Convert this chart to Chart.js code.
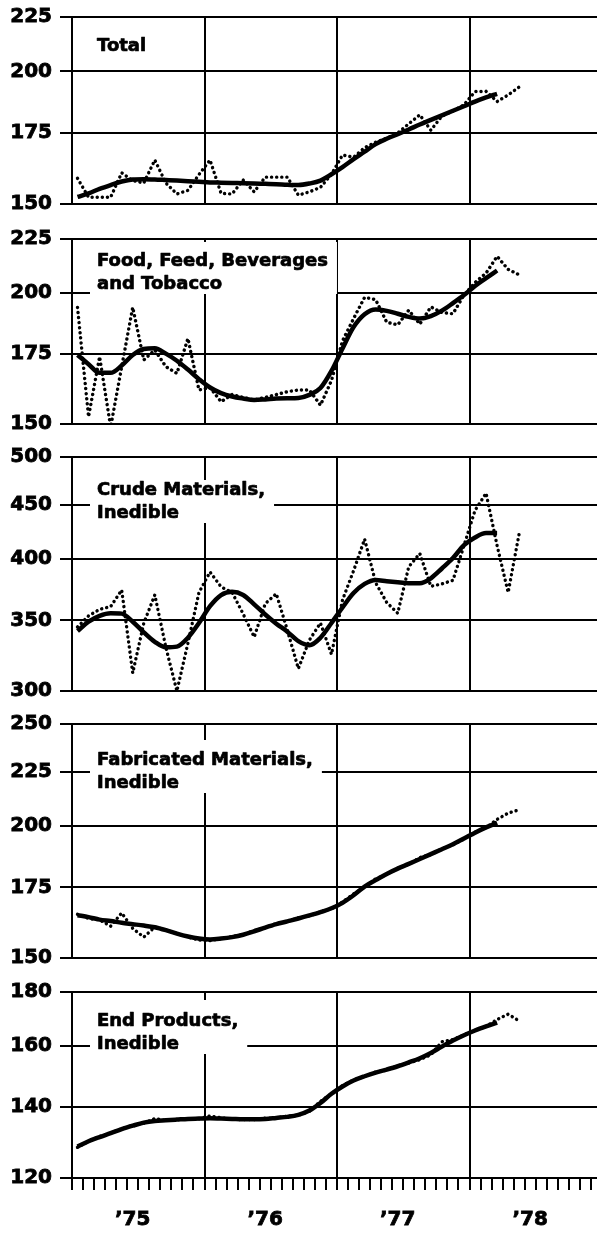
<!DOCTYPE html>
<html>
<head>
<meta charset="utf-8">
<title>Price indexes by commodity group, 1975-78</title>
<script src="https://cdn.jsdelivr.net/npm/chart.js@4.4.0/dist/chart.umd.min.js"></script>
<style>
  html, body { margin: 0; padding: 0; background: #fff; overflow: hidden; }
  body { width: 597px; height: 1233px; position: relative; }
  canvas.panel { position: absolute; left: 0; }
</style>
</head>
<body>
<script>
// Monthly categories, Jan 1975 - Dec 1978
const yearLabels = ['\u201975', '\u201976', '\u201977', '\u201978'];
const monthNames = ['Jan', 'Feb', 'Mar', 'Apr', 'May', 'Jun', 'Jul', 'Aug', 'Sep', 'Oct', 'Nov', 'Dec'];

// Total
const totalTicks = [150, 175, 200, 225];
const totalMonthly = [158.6, 152.2, 152.2, 152.2, 160.5, 157.8, 157, 165, 157, 153.3, 154.5, 159.9,
  165, 153.5, 153.3, 158, 154, 159, 159, 159, 152.9, 154, 155.5, 160,
  166.8, 166, 169.5, 171.5, 173, 175, 178.5, 182, 176, 181.5, 183.5, 186,
  191.4, 191.5, 187.3, 190, 193.3];
const totalTrend = [152.3, 153.5, 155, 156.3, 157.5, 158.2, 158.3, 158.2, 158, 157.8, 157.6, 157.4,
  157.2, 157.1, 157, 156.9, 156.8, 156.7, 156.6, 156.4, 156.3, 156.8, 157.8, 160,
  162.5, 165.3, 168, 170.8, 172.8, 174.5, 176.3, 178.2, 180, 181.8, 183.6, 185.4,
  187.3, 189, 190.5];

// Food, Feed, Beverages and Tobacco
const foodTicks = [150, 175, 200, 225];
const foodMonthly = [193.7, 152.4, 173.8, 149, 170, 193.7, 172.6, 176.4, 170.1, 167.6, 180.9, 161.6,
  162.5, 157.5, 160, 159, 158.1, 159, 160, 161, 161.6, 161.6, 156.3, 165,
  180, 189, 198, 197, 187.5, 186.4, 192.5, 186.7, 193.9, 191.5, 191, 199,
  204.5, 208.8, 216.6, 210.5, 208];
const foodTrend = [174.5, 171, 167.8, 167.8, 170.5, 174.5, 176.8, 177.1, 175, 172.3, 169, 165.5,
  162.5, 160.5, 159.3, 158.6, 158.1, 158.3, 158.6, 158.7, 158.8, 159.9, 162.3, 168.5,
  177, 185.5, 190.8, 192.8, 192.2, 191, 189.7, 189, 190, 192.3, 195.5, 199,
  203, 206.5, 210];

// Crude Materials, Inedible
const crudeTicks = [300, 350, 400, 450, 500];
const crudeMonthly = [345, 353.5, 358.5, 360.7, 374, 312, 347.8, 370, 330, 300, 333, 372,
  389, 376.6, 372, 355, 337.5, 363, 371, 342.7, 315, 335.3, 348, 325,
  366, 390, 418, 380, 364, 355.5, 393.5, 405, 377, 379, 382, 412,
  445, 462, 412, 372, 423];
const crudeTrend = [342, 349, 353.5, 355.5, 355.2, 349, 341, 334, 330, 330.5, 337, 348,
  361, 369.9, 372.5, 370, 362.5, 354.5, 347.5, 341.5, 334.5, 331.5, 337, 348,
  360, 371.5, 379, 382.3, 381.2, 380.3, 379.6, 379.5, 383.7, 392, 401, 412.5,
  419.5, 423.5, 423.5];

// Fabricated Materials, Inedible
const fabTicks = [150, 175, 200, 225, 250];
const fabMonthly = [165, 163.5, 163, 160.8, 165.5, 160, 157, 160.5, 159.5, 158.2, 157, 156,
  155.8, 156.5, 157.2, 157.8, 159.3, 160.2, 161.8, 162.3, 163.8, 164.4, 166, 167,
  169.5, 172.5, 175, 178.3, 180, 182.5, 184, 186.8, 188, 190.4, 192, 194.5,
  197.5, 199.3, 203, 205.8, 207.3];
const fabTrend = [164.7, 164, 163.1, 162.6, 162, 161.5, 161, 160.4, 159.4, 158.2, 157.2, 156.5,
  156.2, 156.5, 157, 157.8, 159, 160.3, 161.5, 162.5, 163.5, 164.6, 165.8, 167.2,
  169.2, 172, 175.3, 177.8, 180.2, 182.3, 184.2, 186.2, 188.2, 190.2, 192.3, 194.7,
  197.2, 199.5, 201.5];

// End Products, Inedible
const endTicks = [120, 140, 160, 180];
const endMonthly = [128.3, 130, 131.4, 132.3, 133.6, 134.6, 135.2, 136.6, 136, 136.3, 136.4, 136.5,
  137.4, 136.8, 136.4, 136.3, 136.3, 136.7, 136.8, 137.3, 137.6, 138.8, 141.8, 144.2,
  146.8, 148.6, 149.7, 151.2, 151.8, 153.3, 154.2, 155.3, 157, 161.5, 162.3, 164,
  165.6, 167, 169.5, 171.5, 169];
const endTrend = [128.5, 130, 131.2, 132.3, 133.5, 134.5, 135.4, 135.9, 136.1, 136.3, 136.5, 136.6,
  136.7, 136.6, 136.5, 136.4, 136.4, 136.5, 136.8, 137.1, 137.7, 139, 141.3, 144.2,
  146.5, 148.4, 149.8, 151, 152, 153.1, 154.4, 155.8, 157.6, 159.8, 161.9, 163.8,
  165.5, 167, 168.4];

// Build the month categories from years and month names
const monthLabels = [];
yearLabels.forEach(year => {
  monthNames.forEach(name => monthLabels.push(name + ' ' + year));
});

const FONT_FAMILY = "'DejaVu Sans', 'Liberation Sans', sans-serif";

// Panel layout: page position of each plot area, title placement
const panels = [
  { title: ['Total'], monthly: totalMonthly, trend: totalTrend, ticks: totalTicks,
    top: 17, bottom: 204, titleOffset: 21, boxPad: 10 },
  { title: ['Food, Feed, Beverages', 'and Tobacco'], monthly: foodMonthly, trend: foodTrend, ticks: foodTicks,
    top: 239, bottom: 424, titleOffset: 14, boxPad: 11 },
  { title: ['Crude Materials,', 'Inedible'], monthly: crudeMonthly, trend: crudeTrend, ticks: crudeTicks,
    top: 457, bottom: 691, titleOffset: 25, boxPad: 2 },
  { title: ['Fabricated Materials,', 'Inedible'], monthly: fabMonthly, trend: fabTrend, ticks: fabTicks,
    top: 724, bottom: 958, titleOffset: 28, boxPad: 12 },
  { title: ['End Products,', 'Inedible'], monthly: endMonthly, trend: endTrend, ticks: endTicks,
    top: 992, bottom: 1178, titleOffset: 21, boxPad: 13 }
];

// Draws the panel title on a white box, over the grid but under the lines
const panelTitlePlugin = {
  id: 'panelTitle',
  beforeDatasetsDraw(chart, args, opts) {
    const { ctx, chartArea } = chart;
    const lines = opts.lines || [];
    const capHeight = 13;
    const lineGap = 23;
    ctx.save();
    ctx.font = 'bold 18px ' + FONT_FAMILY;
    ctx.textBaseline = 'alphabetic';
    ctx.textAlign = 'left';
    const left = chartArea.left + 25;
    const capTop = chartArea.top + opts.offset;
    const width = Math.max(...lines.map(l => ctx.measureText(l).width));
    const lastBaseline = capTop + capHeight + lineGap * (lines.length - 1);
    const boxTop = capTop - opts.boxPad;
    ctx.fillStyle = '#fff';
    ctx.fillRect(left - 7, boxTop, width + 16, lastBaseline + 5 - boxTop);
    // a thin stroke gives the heavy look of the printed lettering
    ctx.fillStyle = '#000';
    ctx.strokeStyle = '#000';
    ctx.lineWidth = 0.7;
    ctx.lineJoin = 'round';
    lines.forEach((line, i) => {
      const y = capTop + capHeight + lineGap * i;
      ctx.fillText(line, left, y);
      ctx.strokeText(line, left, y);
    });
    ctx.restore();
  }
};

// Create one stacked panel
function createPanel(panel, isLast) {
  const padTop = 16;
  const padBottom = isLast ? 0 : 16;
  const xAxisHeight = isLast ? 56 : 0;
  const plotHeight = panel.bottom - panel.top;

  const canvas = document.createElement('canvas');
  canvas.className = 'panel';
  canvas.width = 602;
  canvas.height = padTop + plotHeight + padBottom + xAxisHeight;
  canvas.style.top = (panel.top - padTop) + 'px';
  document.body.appendChild(canvas);

  const tickFont = { family: FONT_FAMILY, size: 20, weight: 'bold' };

  return new Chart(canvas.getContext('2d'), {
    type: 'line',
    data: {
      labels: monthLabels,
      datasets: [
        {
          label: 'Trend',
          data: panel.trend,
          borderColor: '#000',
          borderWidth: 4.5,
          cubicInterpolationMode: 'monotone',
          pointRadius: 0,
          fill: false
        },
        {
          label: 'Monthly',
          data: panel.monthly,
          borderColor: '#000',
          borderWidth: 3.4,
          borderDash: [0.1, 5],
          borderCapStyle: 'round',
          tension: 0,
          pointRadius: 0,
          fill: false
        }
      ]
    },
    options: {
      responsive: false,
      animation: false,
      devicePixelRatio: 1,
      layout: { padding: { top: padTop, bottom: padBottom, left: 0, right: 0 } },
      plugins: {
        legend: { display: false },
        tooltip: { enabled: false },
        panelTitle: { lines: panel.title, offset: panel.titleOffset, boxPad: panel.boxPad }
      },
      scales: {
        x: {
          type: 'category',
          offset: true,
          afterFit: scale => {
            scale.height = xAxisHeight;
            scale.paddingLeft = 0;
            scale.paddingRight = 0;
          },
          grid: {
            offset: true,
            lineWidth: 2,
            color: ctx => (ctx.index % 12 === 0 ? '#000' : 'rgba(0,0,0,0)'),
            drawTicks: isLast,
            tickLength: 12,
            tickWidth: 2,
            tickColor: '#000'
          },
          border: { display: true, color: '#000', width: 2 },
          ticks: {
            display: isLast,
            autoSkip: false,
            maxRotation: 0,
            minRotation: 0,
            padding: 18,
            color: '#000',
            textStrokeColor: '#000',
            textStrokeWidth: 0.8,
            font: tickFont,
            callback: function(value, index) {
              return index % 12 === 5 ? yearLabels[Math.floor(index / 12)] : '';
            }
          }
        },
        y: {
          type: 'logarithmic',
          min: panel.ticks[0],
          max: panel.ticks[panel.ticks.length - 1],
          afterFit: scale => {
            scale.width = 72;
            scale.paddingTop = 0;
            scale.paddingBottom = 0;
          },
          afterBuildTicks: scale => { scale.ticks = panel.ticks.map(v => ({ value: v })); },
          grid: {
            lineWidth: 2,
            color: '#000',
            tickLength: 12,
            tickColor: '#000'
          },
          border: { display: true, color: '#000', width: 2 },
          ticks: {
            padding: 8,
            color: '#000',
            textStrokeColor: '#000',
            textStrokeWidth: 0.8,
            font: tickFont,
            callback: value => String(value)
          }
        }
      }
    },
    plugins: [panelTitlePlugin]
  });
}

panels.forEach((panel, i) => createPanel(panel, i === panels.length - 1));
</script>
</body>
</html>
